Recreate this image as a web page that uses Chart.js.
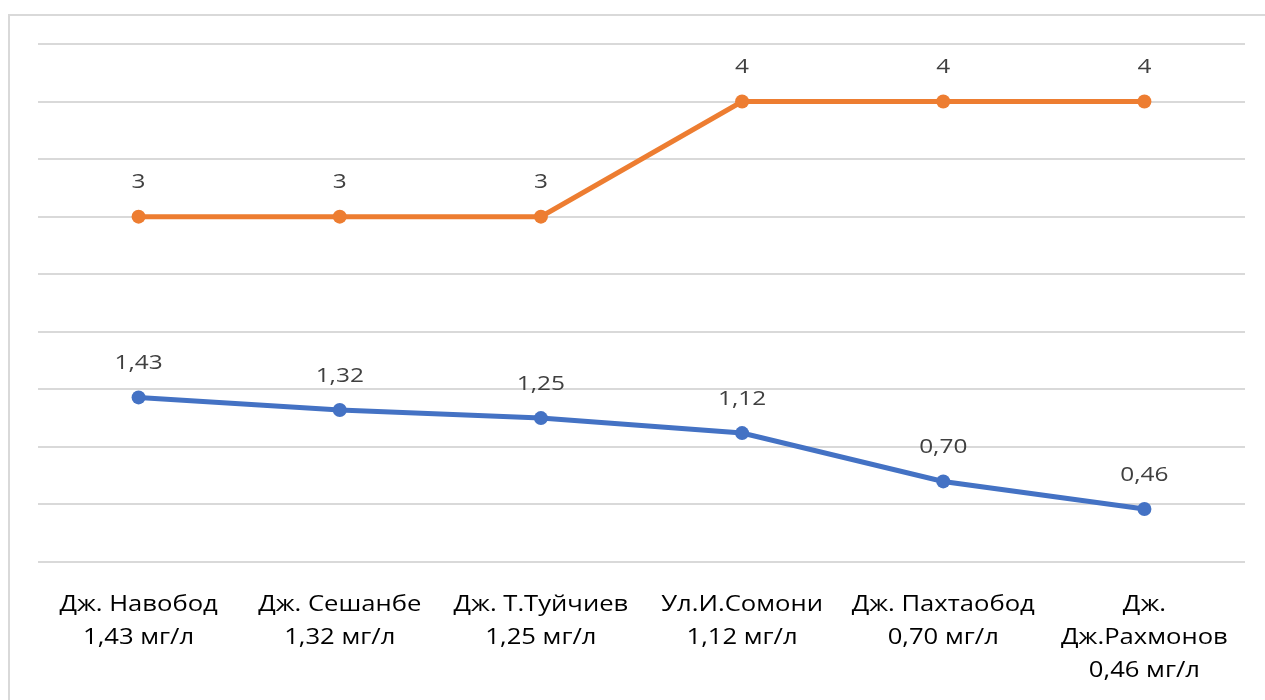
<!DOCTYPE html>
<html>
<head>
<meta charset="utf-8">
<script src="https://cdn.jsdelivr.net/npm/chart.js@4"></script>
<style>
  html, body { margin: 0; padding: 0; background: #fff; overflow: hidden; }
  #wrap { width: 1265px; height: 700px; position: relative; }
</style>
</head>
<body>
<div id="wrap"><canvas id="chart"></canvas></div>
<script>
// Monitoring points along the street network
const categories = [
  ['Дж. Навобод', '1,43 мг/л'],
  ['Дж. Сешанбе', '1,32 мг/л'],
  ['Дж. Т.Туйчиев', '1,25 мг/л'],
  ['Ул.И.Сомони', '1,12 мг/л'],
  ['Дж. Пахтаобод', '0,70 мг/л'],
  ['Дж.', 'Дж.Рахмонов', '0,46 мг/л']
];
// Measured concentration, mg/l
const concentration = [1.43, 1.32, 1.25, 1.12, 0.70, 0.46];
// Class values
const classValues = [3, 3, 3, 4, 4, 4];

const yMin = 0, yMax = 4.5, yStep = 0.5;

const fontFamily = '"Open Sans", "Noto Sans", sans-serif';
const textWiden = 1.22;     // horizontal stretch of the text glyphs
const tickLineHeight = 33;
const tickGap = 43;         // from the axis line to the centre of the first line

const fmt = (v, digits) => v.toFixed(digits).replace('.', ',');

function wideText(ctx, text, x, y) {
  ctx.save();
  ctx.translate(x, y);
  ctx.scale(textWiden, 1);
  ctx.fillText(text, 0, 0);
  ctx.restore();
}

// Frame around the chart area
const framePlugin = {
  id: 'frame',
  beforeDraw(chart) {
    const ctx = chart.ctx;
    ctx.save();
    ctx.strokeStyle = '#d9d9d9';
    ctx.lineWidth = 2;
    ctx.strokeRect(9, 15, 1300, 800);
    ctx.restore();
  }
};

// Category labels under the x axis, placed at the scale's tick positions
const categoryLabels = {
  id: 'categoryLabels',
  afterDraw(chart) {
    const ctx = chart.ctx;
    const xs = chart.scales.x;
    const ys = chart.scales.y;
    const base = ys.getPixelForValue(yMin);
    ctx.save();
    ctx.font = '21px ' + fontFamily;
    ctx.fillStyle = '#000';
    ctx.textAlign = 'center';
    ctx.textBaseline = 'middle';
    chart.data.labels.forEach((lines, i) => {
      const x = xs.getPixelForTick(i);
      lines.forEach((line, k) => {
        wideText(ctx, line, x, base + tickGap + k * tickLineHeight);
      });
    });
    ctx.restore();
  }
};

// Value labels above every point
const valueLabels = {
  id: 'valueLabels',
  afterDatasetsDraw(chart) {
    const ctx = chart.ctx;
    ctx.save();
    ctx.font = '20px ' + fontFamily;
    ctx.fillStyle = '#404040';
    ctx.textAlign = 'center';
    ctx.textBaseline = 'middle';
    chart.data.datasets.forEach((ds, i) => {
      const meta = chart.getDatasetMeta(i);
      meta.data.forEach((pt, j) => {
        wideText(ctx, fmt(ds.data[j], ds.labelDigits), pt.x, pt.y - 34);
      });
    });
    ctx.restore();
  }
};

new Chart(document.getElementById('chart'), {
  type: 'line',
  data: {
    labels: categories,
    datasets: [
      {
        label: 'Концентрация',
        data: concentration,
        labelDigits: 2,
        borderColor: '#4472C4',
        backgroundColor: '#4472C4',
        borderWidth: 5,
        pointRadius: 7,
        pointHoverRadius: 7,
        pointBorderWidth: 0,
        tension: 0
      },
      {
        label: 'Класс',
        data: classValues,
        labelDigits: 0,
        borderColor: '#ED7D31',
        backgroundColor: '#ED7D31',
        borderWidth: 5,
        pointRadius: 7,
        pointHoverRadius: 7,
        pointBorderWidth: 0,
        tension: 0
      }
    ]
  },
  options: {
    responsive: true,
    maintainAspectRatio: false,
    animation: false,
    layout: { padding: { left: 38, right: 20, top: 44, bottom: -15 } },
    plugins: {
      legend: { display: false },
      tooltip: { enabled: false }
    },
    scales: {
      x: {
        offset: true,
        grid: { display: false, drawTicks: false },
        border: { display: false },
        ticks: {
          // the axis reserves room for the labels; they are painted by categoryLabels
          color: 'rgba(0,0,0,0)',
          padding: 27,
          maxRotation: 0,
          autoSkip: false,
          font: { family: fontFamily, size: 21, lineHeight: tickLineHeight + 'px' }
        }
      },
      y: {
        min: yMin,
        max: yMax,
        grid: { color: '#d9d9d9', lineWidth: 2, drawTicks: false },
        border: { display: false },
        ticks: { display: false, stepSize: yStep }
      }
    }
  },
  plugins: [framePlugin, categoryLabels, valueLabels]
});
</script>
</body>
</html>
